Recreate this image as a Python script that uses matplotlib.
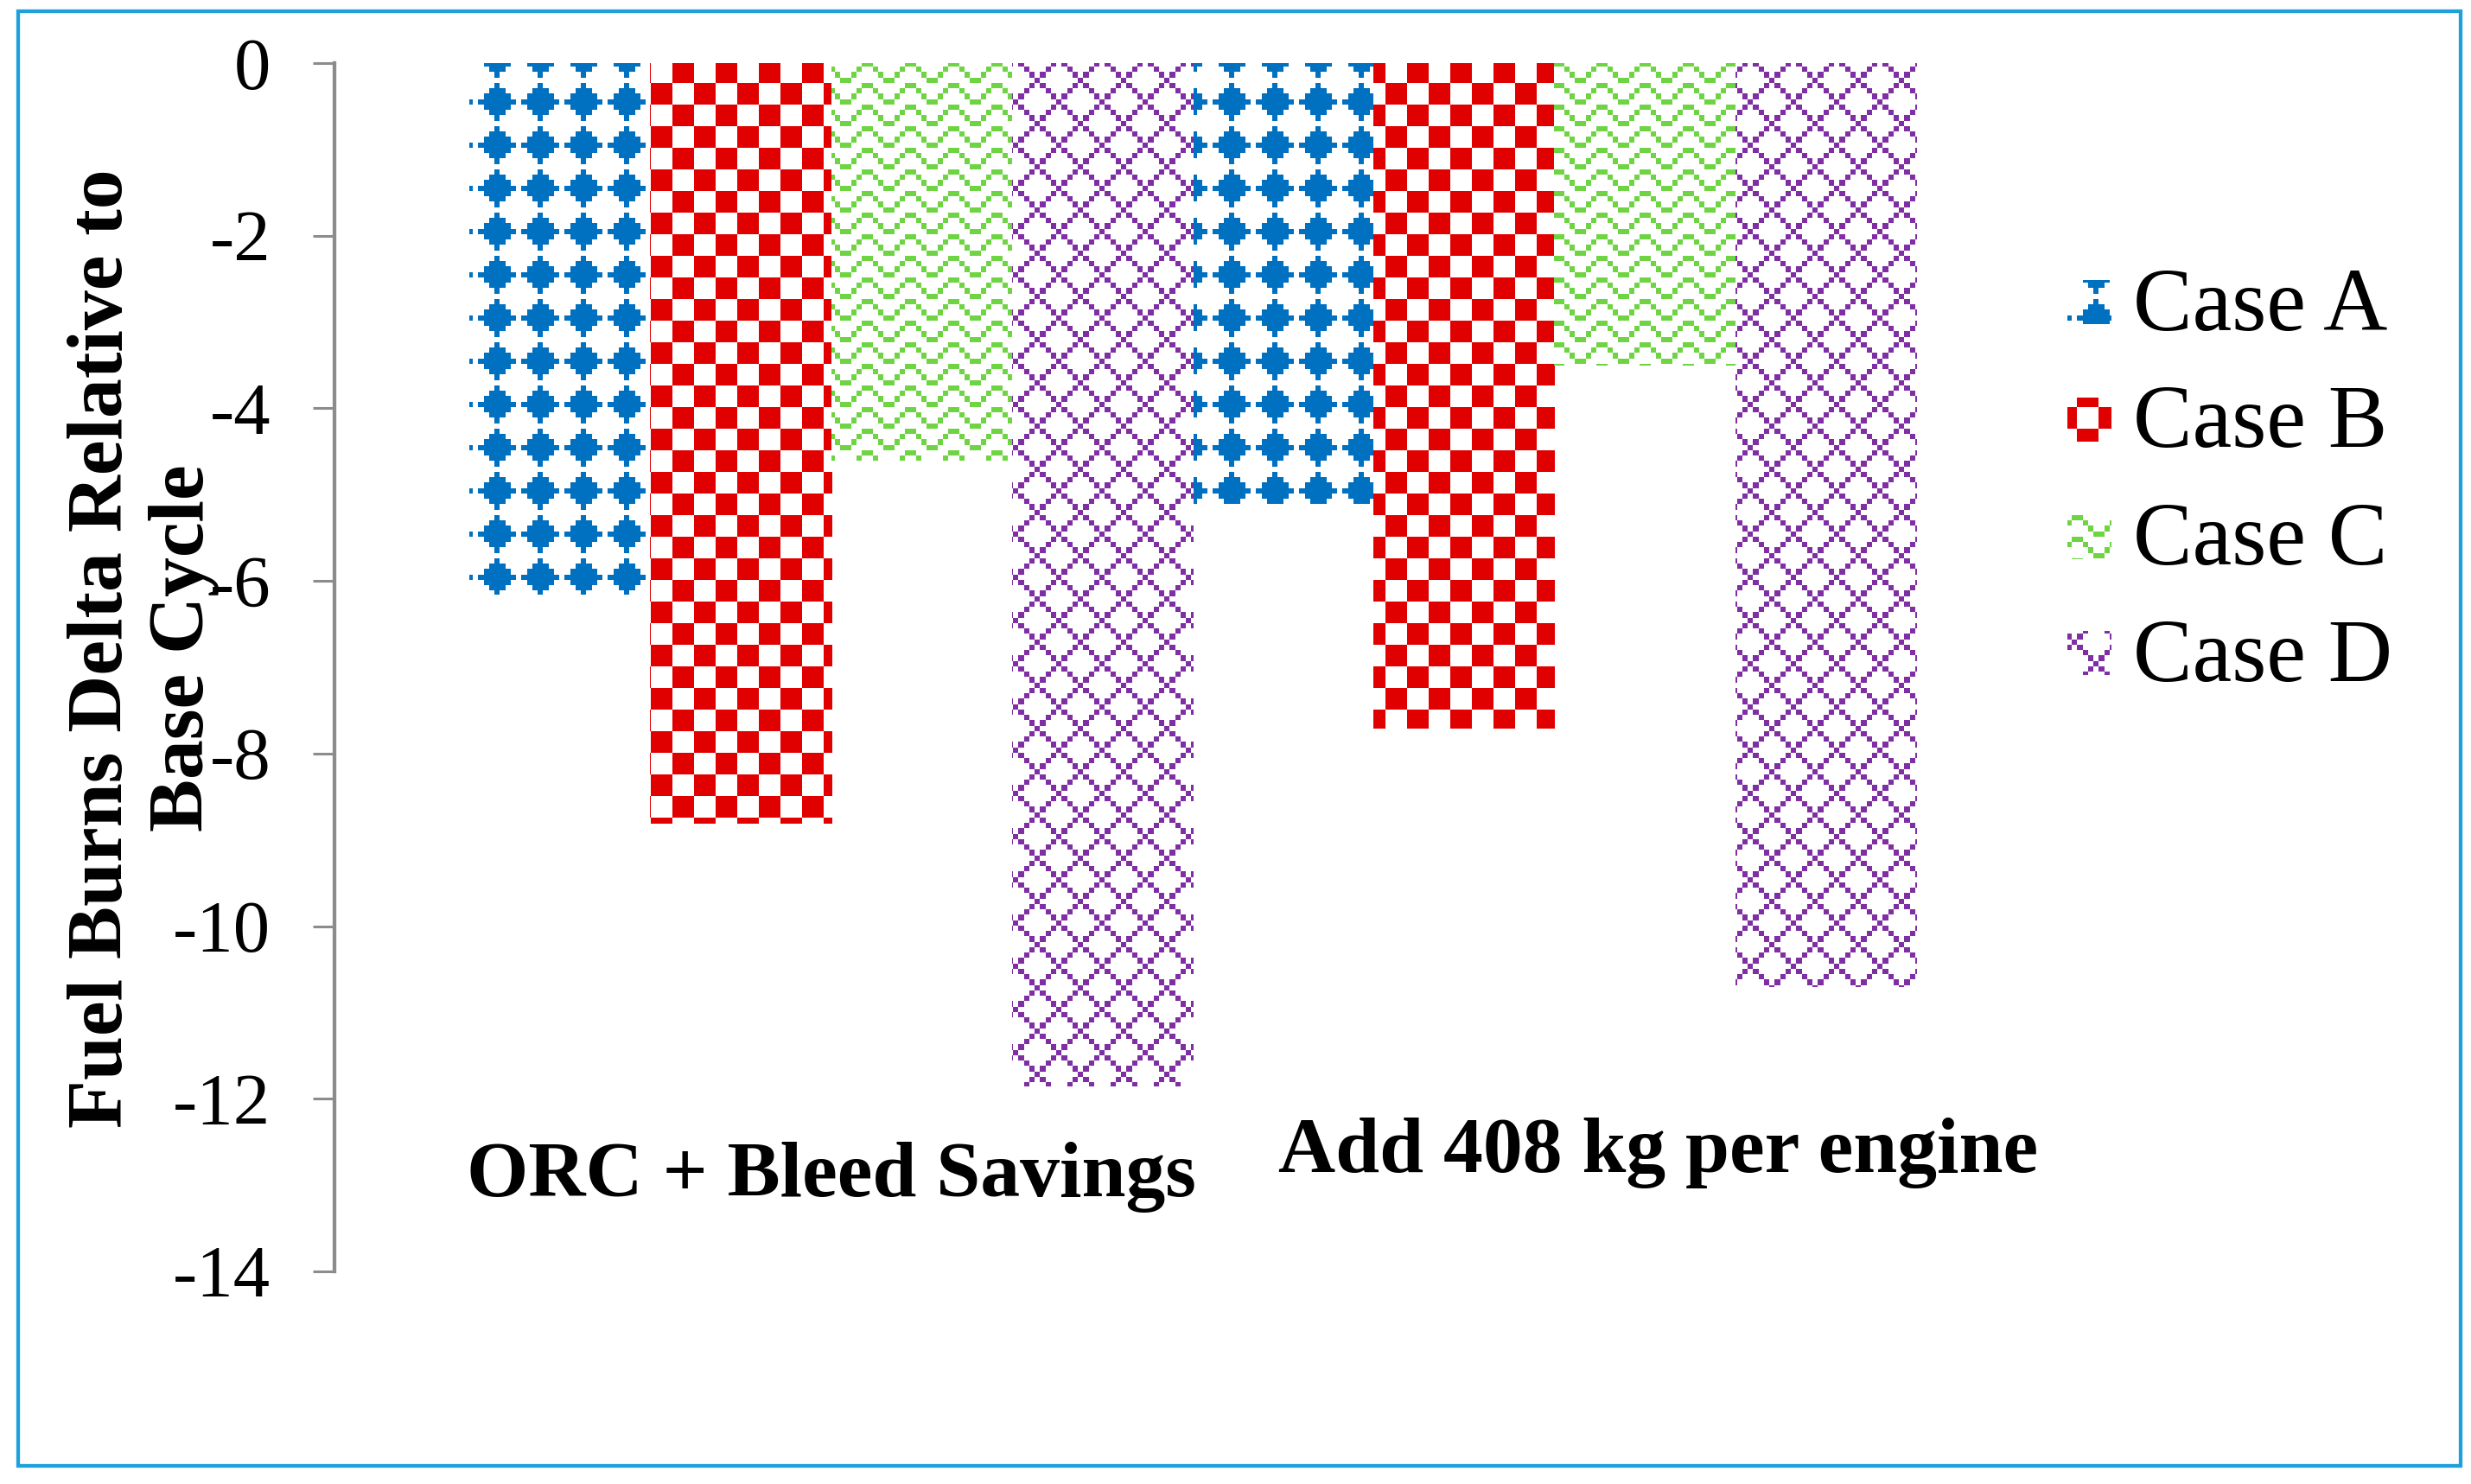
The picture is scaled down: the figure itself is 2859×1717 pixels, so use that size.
import numpy as np
import matplotlib
matplotlib.use("Agg")
import matplotlib.pyplot as plt
from matplotlib.patches import Rectangle
from matplotlib.colors import to_rgb

# ---------------- data ----------------
categories = ["ORC + Bleed Savings", "Add 408 kg per engine"]
series_names = ["Case A", "Case B", "Case C", "Case D"]
case_a = [-6.15, -5.1]
case_b = [-8.8, -7.7]
case_c = [-4.6, -3.5]
case_d = [-11.85, -10.7]
yticks = [0, -2, -4, -6, -8, -10, -12, -14]
ylabel = "Fuel Burns Delta Relative to\nBase Cycle"

# ---------------- style ----------------
W, H, DPI = 2859, 1717, 100
colors = ["#0070C0", "#E00000", "#6FD443", "#7F2FA3"]
bitmaps = [
    ["...X....", "..XXX...", ".XXXXX..", "XXXXXXX.",
     ".XXXXX..", "..XXX...", "...X....", "........"],
    ["XXXX...."] * 4 + ["....XXXX"] * 4,
    ["X......X", ".X....X.", "..X..X..", "...XX..."] * 2,
    ["X.....X.", ".X...X..", "..X.X...", "...X....",
     "..X.X...", ".X...X..", "X.....X.", ".......X"],
]
PX, OX, OY = 6.25, 3.3, 45.8


def pattern(bitmap, color, x0, y0, w, h):
    bm = np.array([[c == "X" for c in row] for row in bitmap])
    X = x0 + np.arange(w) + 0.5
    Y = y0 + np.arange(h) + 0.5
    cols = np.floor((X - OX) / PX).astype(int) % 8
    rows = np.floor((Y - OY) / PX).astype(int) % 8
    mask = bm[rows[:, None], cols[None, :]]
    img = np.full((h, w, 4), 255, np.uint8)
    rgb = (np.array(to_rgb(color)) * 255).round().astype(np.uint8)
    img[mask, :3] = rgb
    return img


plt.rcParams["font.family"] = ["Liberation Serif", "DejaVu Serif"]
plt.rcParams["axes.unicode_minus"] = False

fig = plt.figure(figsize=(W / DPI, H / DPI), dpi=DPI)
fig.patch.set_facecolor("white")

# axes placement (pixels)
ax_l, ax_r, ax_t, ax_b = 387, 2373, 73, 1471
ax = fig.add_axes([ax_l / W, (H - ax_b) / H, (ax_r - ax_l) / W, (ax_b - ax_t) / H])
ax.set_facecolor("none")

x = np.arange(len(categories))
width = 0.25
all_series = [case_a, case_b, case_c, case_d]
offsets = [-1.5, -0.5, 0.5, 1.5]

ax.set_xlim(-0.6864, 1.6864)
ax.set_ylim(-14, 0)

bar_groups = []
for vals, off in zip(all_series, offsets):
    bars = ax.bar(x + off * width, vals, width, color="none", edgecolor="none", linewidth=0)
    bar_groups.append(bars)

# pattern fills clipped to each bar
aw, ah = ax_r - ax_l, ax_b - ax_t
for bars, bm, col in zip(bar_groups, bitmaps, colors):
    img = pattern(bm, col, ax_l, ax_t, aw, ah)
    for b in bars:
        im = fig.figimage(img, xo=ax_l, yo=H - ax_b, origin="upper", zorder=5)
        im.set_clip_path(b)

# axes styling
for s in ["top", "right", "bottom"]:
    ax.spines[s].set_visible(False)
ax.spines["left"].set_color("#8C8C8C")
ax.spines["left"].set_linewidth(3.1)
ax.set_xticks([])
ax.set_yticks(yticks)
ax.set_yticklabels([str(t) for t in yticks])
ax.tick_params(axis="y", direction="out", length=18, width=2.2, color="#8C8C8C",
               pad=35, labelsize=61)

# category labels
ax.text(0.0, -13.13, categories[0], ha="center", va="baseline", fontsize=66, fontweight="bold")
ax.text(1.144, -12.85, categories[1], ha="center", va="baseline", fontsize=66, fontweight="bold")

# y label
fig.text(166 / W, 1 - 750 / H, ylabel, rotation=90, ha="center", va="center",
         multialignment="center", fontsize=66, fontweight="bold")

# legend (manual)
leg_x, hsz = 2392, 51
centers = [350, 485, 621, 756]
for name, bm, col, cy in zip(series_names, bitmaps, colors, centers):
    top = int(round(cy - hsz / 2))
    himg = pattern(bm, col, leg_x, top, hsz, hsz)
    fig.figimage(himg, xo=leg_x, yo=H - top - hsz, origin="upper", zorder=5)
    fig.text(2468 / W, 1 - (cy + 32) / H, name, ha="left", va="baseline", fontsize=74)

# outer border
bx0, bx1, by0, by1 = 20.5, 2847, 13, 1696
fig.add_artist(Rectangle((bx0 / W, 1 - by1 / H), (bx1 - bx0) / W, (by1 - by0) / H,
                         transform=fig.transFigure, fill=False, edgecolor="#1FA0DB",
                         linewidth=3.1, zorder=10))

fig.savefig("out.png", dpi=DPI, facecolor="white")
